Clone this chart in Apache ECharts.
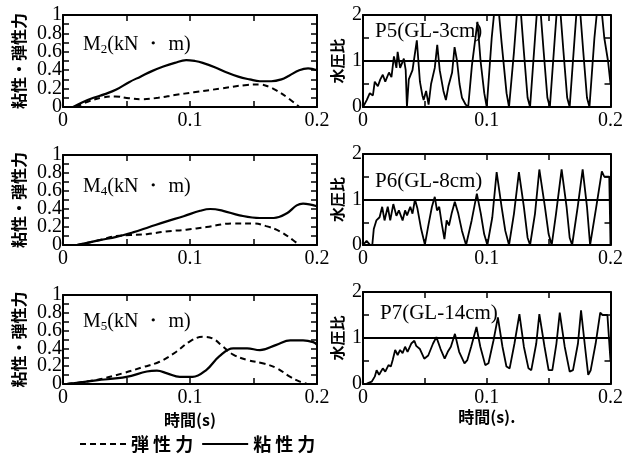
<!DOCTYPE html>
<html>
<head>
<meta charset="utf-8">
<script src="https://cdn.jsdelivr.net/npm/echarts@6/dist/echarts.min.js"></script>
<style>
  html, body { margin: 0; padding: 0; background: #fff; }
  #main { width: 626px; height: 456px; }
</style>
</head>
<body>
<div id="main"></div>
<script>
// time (s), value pairs
var m2Elastic = [[0.01,0],[0.02,0.06],[0.03,0.1],[0.041,0.115],[0.052,0.095],[0.062,0.085],[0.075,0.1],[0.088,0.13],[0.103,0.16],[0.124,0.2],[0.145,0.24],[0.155,0.245],[0.162,0.22],[0.168,0.18],[0.177,0.1],[0.186,0]];
var m2Viscous = [[0.008,0],[0.015,0.05],[0.024,0.1],[0.033,0.14],[0.042,0.19],[0.052,0.27],[0.061,0.33],[0.07,0.39],[0.079,0.44],[0.088,0.48],[0.097,0.51],[0.104,0.5],[0.11,0.48],[0.12,0.43],[0.128,0.38],[0.138,0.33],[0.147,0.3],[0.155,0.28],[0.164,0.28],[0.172,0.3],[0.178,0.34],[0.186,0.4],[0.193,0.42],[0.2,0.4]];
var m4Elastic = [[0.011,0],[0.029,0.055],[0.042,0.1],[0.053,0.11],[0.066,0.12],[0.081,0.15],[0.097,0.17],[0.113,0.2],[0.134,0.24],[0.15,0.24],[0.16,0.21],[0.171,0.15],[0.181,0.055],[0.186,0]];
var m4Viscous = [[0.011,0],[0.029,0.055],[0.042,0.09],[0.055,0.14],[0.068,0.2],[0.081,0.26],[0.095,0.32],[0.108,0.38],[0.116,0.4],[0.126,0.38],[0.139,0.33],[0.155,0.3],[0.166,0.3],[0.176,0.35],[0.184,0.44],[0.189,0.46],[0.2,0.43]];
var m5Elastic = [[0.003,0],[0.026,0.045],[0.047,0.12],[0.063,0.19],[0.076,0.25],[0.089,0.36],[0.1,0.48],[0.11,0.53],[0.118,0.51],[0.126,0.42],[0.134,0.33],[0.145,0.27],[0.158,0.23],[0.168,0.18],[0.179,0.08],[0.186,0.03],[0.192,0]];
var m5Viscous = [[0.003,0],[0.026,0.04],[0.05,0.08],[0.066,0.14],[0.074,0.15],[0.082,0.12],[0.092,0.08],[0.102,0.08],[0.113,0.16],[0.123,0.31],[0.134,0.4],[0.145,0.4],[0.155,0.38],[0.168,0.44],[0.179,0.49],[0.189,0.49],[0.197,0.47],[0.2,0.44]];

var p5 = [[0,0],[0.003,0.15],[0.0055,0.3],[0.008,0.25],[0.0095,0.55],[0.012,0.45],[0.014,0.6],[0.016,0.7],[0.018,0.55],[0.021,0.75],[0.023,0.65],[0.025,1.1],[0.027,0.85],[0.028,1.2],[0.03,0.85],[0.033,1.05],[0.0345,0.8],[0.0355,0],[0.037,0.6],[0.04,0.8],[0.0435,1.45],[0.046,0.55],[0.048,0.25],[0.049,0.15],[0.051,0.35],[0.053,0.05],[0.055,0.5],[0.058,0.85],[0.06,1.35],[0.062,0.8],[0.065,0.35],[0.067,0.15],[0.069,0.45],[0.072,0.75],[0.074,1.3],[0.076,1.0],[0.078,0.5],[0.08,0.2],[0.083,0.05],[0.085,0],[0.088,0.9],[0.0925,1.85],[0.095,1.0],[0.098,0.3],[0.1,0],[0.104,1.5],[0.108,2.6],[0.112,1.4],[0.116,0.3],[0.118,0],[0.122,1.2],[0.126,2.6],[0.13,1.2],[0.133,0.2],[0.135,0],[0.139,1.5],[0.142,2.6],[0.146,1.2],[0.149,0.2],[0.151,0],[0.155,1.5],[0.158,2.6],[0.162,1.2],[0.165,0.2],[0.167,0],[0.171,1.5],[0.174,2.6],[0.178,1.2],[0.181,0.2],[0.183,0],[0.187,1.5],[0.191,2.6],[0.195,1.5],[0.198,1.0],[0.2,0.5]];
var p6 = [[0,0],[0.0029,0.09],[0.0055,0.01],[0.0075,0],[0.0087,0.35],[0.0108,0.54],[0.0134,0.61],[0.0155,0.84],[0.0174,0.54],[0.02,0.84],[0.022,0.54],[0.0245,0.9],[0.027,0.64],[0.029,0.76],[0.032,0.54],[0.034,0.76],[0.0356,0.65],[0.0382,0.84],[0.04,0.69],[0.042,1.0],[0.044,0.8],[0.047,0.35],[0.05,0.01],[0.053,0.46],[0.0557,0.84],[0.058,1.06],[0.0598,0.76],[0.0616,0.84],[0.0637,0.46],[0.0658,0.13],[0.0676,0.54],[0.0695,0.43],[0.0716,0.69],[0.0742,0.95],[0.077,0.69],[0.08,0.31],[0.0833,0],[0.0878,0.54],[0.092,1.13],[0.0952,0.69],[0.0979,0.24],[0.1005,0],[0.1045,0.61],[0.108,1.6],[0.112,0.84],[0.115,0.31],[0.118,0],[0.122,0.69],[0.126,1.6],[0.13,0.84],[0.133,0.16],[0.135,0],[0.139,0.69],[0.1425,1.66],[0.147,0.84],[0.15,0.24],[0.1525,0],[0.156,0.69],[0.1605,1.66],[0.1645,0.84],[0.167,0.16],[0.169,0],[0.1735,0.84],[0.1775,1.66],[0.181,0.84],[0.1835,0],[0.1885,0.84],[0.193,1.62],[0.195,1.5],[0.199,1.5],[0.2,0]];
var p7 = [[0,0],[0.003,0.01],[0.007,0.05],[0.0095,0.16],[0.011,0.3],[0.013,0.2],[0.016,0.34],[0.018,0.27],[0.0206,0.41],[0.0225,0.38],[0.024,0.52],[0.026,0.74],[0.028,0.63],[0.03,0.74],[0.032,0.67],[0.034,0.81],[0.036,0.7],[0.039,0.88],[0.0415,0.94],[0.043,0.83],[0.046,0.76],[0.0495,0.55],[0.0527,0.62],[0.0566,0.88],[0.0593,1.02],[0.0627,0.76],[0.066,0.55],[0.0685,0.7],[0.071,0.81],[0.0743,1.09],[0.0777,0.7],[0.082,0.45],[0.0843,0.52],[0.0874,0.81],[0.0917,1.24],[0.0948,0.81],[0.0988,0.41],[0.1014,0.45],[0.1054,0.94],[0.109,1.45],[0.1127,0.81],[0.1159,0.38],[0.1185,0.34],[0.1224,0.88],[0.1264,1.52],[0.13,0.81],[0.1337,0.34],[0.136,0.3],[0.14,0.88],[0.1425,1.52],[0.1467,0.81],[0.15,0.3],[0.153,0.3],[0.1563,0.88],[0.159,1.55],[0.163,0.81],[0.167,0.27],[0.1697,0.3],[0.1737,0.88],[0.1762,1.6],[0.1794,0.81],[0.182,0.2],[0.184,0.3],[0.188,0.88],[0.1917,1.55],[0.1935,1.5],[0.1975,1.5],[0.2,0.5]];

var momentLabels = ['2', '4', '5'];
var gaugeLabels = ['P5(GL-3cm)', 'P6(GL-8cm)', 'P7(GL-14cm)'];
var xTickLabels = ['0', '0.1', '0.2'];

var serif = 'Liberation Serif';
var cjk = 'Noto Sans CJK JP';

var chart = echarts.init(document.getElementById('main'));

var grids = [
  { left: 63, top: 15, width: 254, height: 92 },
  { left: 63, top: 155, width: 254, height: 90 },
  { left: 63, top: 295, width: 254, height: 89 },
  { left: 363, top: 15, width: 253, height: 92 },
  { left: 363, top: 154, width: 253, height: 91 },
  { left: 363, top: 292, width: 253, height: 92 }
];

var lineAx = { show: true, onZero: false, lineStyle: { color: '#000', width: 2 } };
var tickIn = { show: true, inside: true, length: 6, lineStyle: { color: '#000', width: 1.5 } };

function xLabel(v) {
  var i = v / 0.1;
  if (Math.abs(i - Math.round(i)) > 1e-6) return '';
  return xTickLabels[Math.round(i)];
}
function yLabelLeft(v) {
  var n = Math.round(v * 10);
  if (n % 2 !== 0) return '';
  return n === 10 ? '1' : n === 0 ? '0' : (n / 10).toFixed(1);
}
function yLabelRight(v) {
  return Math.abs(v - Math.round(v)) < 1e-6 ? String(Math.round(v)) : '';
}

var xAxes = [], yAxes = [];
for (var i = 0; i < 6; i++) {
  var isLeft = i < 3, isBottom = i % 3 === 2;
  xAxes.push({
    gridIndex: i, type: 'value', position: 'bottom', min: 0, max: 0.2, interval: 0.05,
    axisLine: lineAx, axisTick: tickIn, splitLine: { show: false },
    axisLabel: { formatter: xLabel, color: '#000', fontFamily: serif, fontSize: 20, margin: 4 },
    name: isBottom ? (isLeft ? '時間(s)' : '時間(s).') : '',
    nameLocation: 'middle', nameGap: isLeft ? 28 : 23,
    nameTextStyle: { color: '#000', fontFamily: cjk, fontWeight: 'bold', fontSize: 16 }
  });
  xAxes.push({
    gridIndex: i, type: 'value', position: 'top', min: 0, max: 0.2, interval: 0.05,
    axisLine: lineAx, axisTick: tickIn, axisLabel: { show: false }, splitLine: { show: false }
  });
  yAxes.push({
    gridIndex: i, type: 'value', position: 'left', min: 0, max: isLeft ? 1 : 2, interval: isLeft ? 0.1 : 0.5,
    axisLine: lineAx, axisTick: tickIn, splitLine: { show: false },
    axisLabel: {
      color: '#000', fontFamily: serif, fontSize: 20, margin: 1,
      formatter: isLeft ? yLabelLeft : yLabelRight
    },
    name: isLeft ? '粘性・弾性力' : '水圧比',
    nameLocation: 'middle', nameGap: isLeft ? 36 : 18,
    nameTextStyle: { color: '#000', fontFamily: cjk, fontWeight: 'bold', fontSize: isLeft ? 16 : 15 }
  });
  yAxes.push({
    gridIndex: i, type: 'value', position: 'right', min: 0, max: isLeft ? 1 : 2, interval: isLeft ? 0.1 : 0.5,
    axisLine: lineAx, axisTick: tickIn, axisLabel: { show: false }, splitLine: { show: false }
  });
}

var moments = [[m2Elastic, m2Viscous], [m4Elastic, m4Viscous], [m5Elastic, m5Viscous]];
var gauges = [p5, p6, p7];
var series = [];
moments.forEach(function (pair, i) {
  series.push({
    name: '弾性力', type: 'line', xAxisIndex: i * 2, yAxisIndex: i * 2,
    data: pair[0], smooth: 0.4, symbol: 'none', color: '#000',
    lineStyle: { color: '#000', width: 2, type: [6, 4] }
  });
  series.push({
    name: '粘性力', type: 'line', xAxisIndex: i * 2, yAxisIndex: i * 2,
    data: pair[1], smooth: 0.4, symbol: 'none', color: '#000',
    lineStyle: { color: '#000', width: 2.2 }
  });
});
gauges.forEach(function (d, j) {
  var i = j + 3;
  series.push({
    name: gaugeLabels[j], type: 'line', xAxisIndex: i * 2, yAxisIndex: i * 2,
    data: d, symbol: 'none', clip: true, color: '#000',
    lineStyle: { color: '#000', width: 1.8 },
    markLine: {
      silent: true, symbol: 'none', label: { show: false },
      lineStyle: { color: '#000', width: 2, type: 'solid' },
      data: [{ yAxis: 1 }]
    }
  });
});

var graphics = [];
var mTops = [48, 190, 325];
momentLabels.forEach(function (s, j) {
  graphics.push({
    type: 'text', left: 83, top: mTops[j] - 13, z: 50,
    style: {
      text: '{a|M}{s|' + s + '}{a|(kN ・ m)}',
      rich: {
        a: { fontFamily: serif, fontSize: 20, fill: '#000' },
        s: { fontFamily: serif, fontSize: 13, fill: '#000', padding: [10, 0, 0, 0] }
      }
    }
  });
});
var pTops = [33, 183, 315];
var pLefts = [375, 375, 380];
gaugeLabels.forEach(function (s, j) {
  graphics.push({
    type: 'text', left: pLefts[j], top: pTops[j] - 12, z: 1,
    style: { text: s, fontFamily: serif, fontSize: 21, fill: '#000' }
  });
});

chart.setOption({
  animation: false,
  backgroundColor: '#fff',
  grid: grids,
  xAxis: xAxes,
  yAxis: yAxes,
  series: series,
  graphic: graphics,
  legend: {
    data: ['弾性力', '粘性力'],
    left: 74, top: 430,
    itemWidth: 46, itemHeight: 14, itemGap: 8,
    itemStyle: { opacity: 0 },
    formatter: function (n) { return n.split('').join(' '); },
    textStyle: { color: '#000', fontFamily: cjk, fontWeight: 'bold', fontSize: 18 }
  }
});
</script>
</body>
</html>
